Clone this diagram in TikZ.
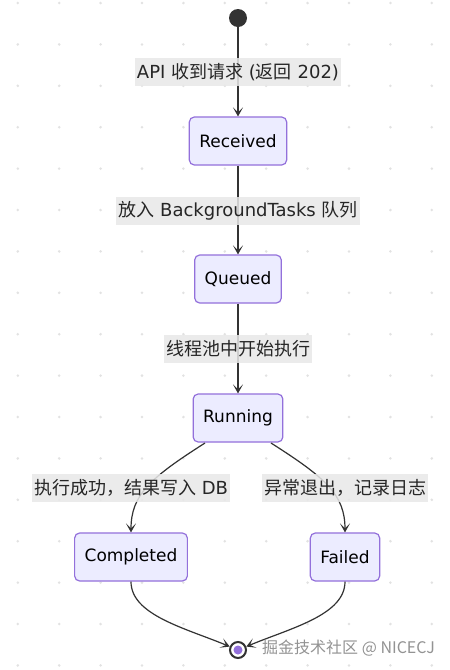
\documentclass[tikz,border=0pt]{standalone}
\usepackage{fontspec}
\setmainfont{DejaVu Sans}
\newfontfamily\cjk{Noto Sans CJK SC}
\newcommand\zh[1]{{\cjk #1}}
\usetikzlibrary{arrows.meta}
\definecolor{nodefill}{HTML}{ECECFF}
\definecolor{nodeborder}{HTML}{9370DB}
\definecolor{edgecol}{HTML}{333333}
\definecolor{lblfill}{HTML}{E8E8E8}
\definecolor{dotcol}{HTML}{E2E2E2}
\tikzset{
  state/.style={draw=nodeborder, fill=nodefill, line width=1.2pt, rounded corners=5pt,
    minimum height=48pt, inner xsep=10pt, font=\fontsize{17}{19}\selectfont, text=black},
  edge/.style={draw=edgecol, line width=1.2pt, -{Stealth[length=9pt,width=10pt,inset=5pt]}},
  lbl/.style={fill=lblfill, fill opacity=0.85, text opacity=1, inner xsep=2pt, inner ysep=0pt,
    minimum height=28pt, font=\fontsize{18}{20}\selectfont, text=black!85},
}
\begin{document}
\begin{tikzpicture}[x=1pt,y=-1pt]
\useasboundingbox (0,0) rectangle (450,670);
\fill[white] (0,0) rectangle (450,670);
% dot grid
\foreach \i in {0,...,10} {
  \foreach \j in {0,...,16} {
    \fill[dotcol] (17.8+41.4*\i, 3+41.4*\j) circle (1.4pt);
  }
}
% start / end
\node[circle, fill=edgecol, minimum size=18pt, inner sep=0pt] (start) at (238,18) {};
\node[circle, draw=edgecol, line width=2pt, fill=white, minimum size=16pt, inner sep=0pt] (end) at (238,650) {};
\fill[nodeborder] (end.center) circle (4.5pt);
% states
\node[state] (rec) at (238,141) {Received};
\node[state] (que) at (238,279) {Queued};
\node[state] (run) at (238,418) {Running};
\node[state] (comp) at (131,557) {Completed};
\node[state] (fail) at (345,557) {Failed};
% edges
\draw[edge] (start) -- (rec);
\draw[edge] (rec) -- (que);
\draw[edge] (que) -- (run);
\coordinate (rl) at (205,443);
\coordinate (rr) at (271,443);
\draw[edge] (rl) .. controls (150,478) and (131,495) .. (comp.north);
\draw[edge] (rr) .. controls (326,478) and (345,495) .. (fail.north);
\draw[edge] (comp.south) .. controls (131,615) and (185,628) .. (end);
\draw[edge] (fail.south) .. controls (345,615) and (291,628) .. (end);
% edge labels
\node[lbl] (l1) at (238,72) {API \zh{收到请求} (\zh{返回} 202)};
\node[lbl] (l2) at (238,211) {\zh{放入} BackgroundTasks \zh{队列}};
\node[lbl] (l3) at (238,349) {\zh{线程池中开始执行}};
\node[lbl] (l4) at (131,488) {\zh{执行成功，结果写入} DB};
\node[lbl] (l5) at (345,488) {\zh{异常退出，记录日志}};
% watermark
\node[anchor=west, inner sep=0pt, text=gray!85, font=\cjk\fontsize{16}{18}\selectfont] (wm) at (262,648) {掘金技术社区 @ NICECJ};
\end{tikzpicture}
\end{document}
